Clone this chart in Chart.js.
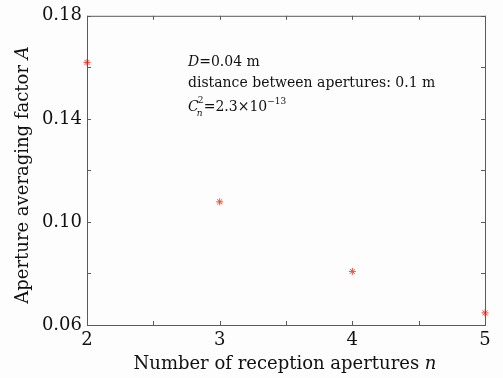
<!DOCTYPE html>
<html>
<head>
<meta charset="utf-8">
<script src="https://cdn.jsdelivr.net/npm/chart.js@4/dist/chart.umd.min.js"></script>
<style>
  body { margin: 0; background: #fdfdfd; }
  #wrap { width: 503px; height: 378px; }
</style>
</head>
<body>
<div id="wrap"><canvas id="apertureChart" width="503" height="378"></canvas></div>
<script>
// data
const apertureCount = [2, 3, 4, 5];
const averagingFactor = [0.1619, 0.1078, 0.0808, 0.0647];
const yMajorTicks = [0.06, 0.10, 0.14, 0.18];
const xMajorTicks = [2, 3, 4, 5];

const axisColor = '#5a5a5a';
const serif = '"DejaVu Serif", serif';

// draw text made of parts: [text, font, dy]
function drawParts(ctx, parts, x, y) {
    let cx = x;
    parts.forEach(p => {
        ctx.font = p[1];
        ctx.fillText(p[0], cx, y + (p[2] || 0));
        cx += ctx.measureText(p[0]).width;
    });
    return cx - x;
}
function partsWidth(ctx, parts) {
    let w = 0;
    parts.forEach(p => { ctx.font = p[1]; w += ctx.measureText(p[0]).width; });
    return w;
}

// frame, inward ticks on all four sides, axis titles and the note
const framePlugin = {
    id: 'frame',
    afterDraw(chart) {
        const ctx = chart.ctx;
        const a = chart.chartArea;
        const xs = chart.scales.x, ys = chart.scales.y;
        ctx.save();
        ctx.strokeStyle = axisColor;
        ctx.lineWidth = 1;
        ctx.strokeRect(a.left + 0.5, a.top + 0.5, a.right - a.left, a.bottom - a.top);
        ctx.beginPath();
        xs.ticks.forEach(t => {
            const px = Math.round(xs.getPixelForValue(t.value)) + 0.5;
            ctx.moveTo(px, a.bottom); ctx.lineTo(px, a.bottom - 4);
            ctx.moveTo(px, a.top); ctx.lineTo(px, a.top + 4);
        });
        ys.ticks.forEach(t => {
            const py = Math.round(ys.getPixelForValue(t.value)) + 0.5;
            ctx.moveTo(a.left, py); ctx.lineTo(a.left + 4, py);
            ctx.moveTo(a.right, py); ctx.lineTo(a.right - 4, py);
        });
        ctx.stroke();

        ctx.fillStyle = '#111';
        ctx.textBaseline = 'alphabetic';
        ctx.textAlign = 'left';
        // x title
        const xt = [['Number of reception apertures ', '18px ' + serif], ['n', 'italic 18px ' + serif]];
        const xw = partsWidth(ctx, xt);
        drawParts(ctx, xt, 285 - xw / 2, 369);
        // y title
        const yt = [['Aperture averaging factor ', '18px ' + serif], ['A', 'italic 18px ' + serif]];
        const yw = partsWidth(ctx, yt);
        ctx.save();
        ctx.translate(28, 175);
        ctx.rotate(-Math.PI / 2);
        drawParts(ctx, yt, -yw / 2, 0);
        ctx.restore();

        // note
        const nx = a.left + 101;
        drawParts(ctx, [['D', 'italic 14px ' + serif], ['=0.04 m', '14px ' + serif]], nx, a.top + 50);
        drawParts(ctx, [['distance between apertures: 0.1 m', '14px ' + serif]], nx, a.top + 71);
        const cy = a.top + 95;
        ctx.font = 'italic 14px ' + serif;
        ctx.fillText('C', nx, cy);
        const cw = ctx.measureText('C').width;
        ctx.font = 'italic 9px ' + serif;
        ctx.fillText('n', nx + cw - 2, cy + 5);
        ctx.font = '9px ' + serif;
        ctx.fillText('2', nx + cw - 1, cy - 8);
        drawParts(ctx, [['=2.3\u00d710', '14px ' + serif], ['\u221213', '9px ' + serif, -7]], nx + cw + 5, cy);
        ctx.restore();
    }
};

new Chart('apertureChart', {
    type: 'scatter',
    data: {
        datasets: [{
            label: 'A',
            data: apertureCount.map((n, i) => ({ x: n, y: averagingFactor[i] })),
            pointStyle: 'star',
            radius: 3.5,
            borderWidth: 1,
            borderColor: '#f24b3c',
            backgroundColor: '#f24b3c',
            clip: false
        }]
    },
    options: {
        responsive: false,
        animation: false,
        layout: { padding: { left: 0, right: 18, top: 13, bottom: 0 } },
        plugins: { legend: { display: false }, tooltip: { enabled: false } },
        scales: {
            x: {
                type: 'linear', min: 2, max: 5,
                grid: { display: false, drawTicks: false },
                border: { display: false },
                afterFit: s => { s.height = 53; },
                ticks: {
                    stepSize: 0.5, padding: 5, color: '#111',
                    font: { family: serif, size: 18 },
                    callback: v => xMajorTicks.includes(v) ? String(v) : ''
                }
            },
            y: {
                min: 0.06, max: 0.18,
                grid: { display: false, drawTicks: false },
                border: { display: false },
                afterFit: s => { s.width = 87; },
                ticks: {
                    stepSize: 0.02, padding: 5, color: '#111',
                    font: { family: serif, size: 18 },
                    callback: v => yMajorTicks.some(m => Math.abs(m - v) < 1e-6) ? v.toFixed(2) : ''
                }
            }
        }
    },
    plugins: [framePlugin]
});
</script>
</body>
</html>
